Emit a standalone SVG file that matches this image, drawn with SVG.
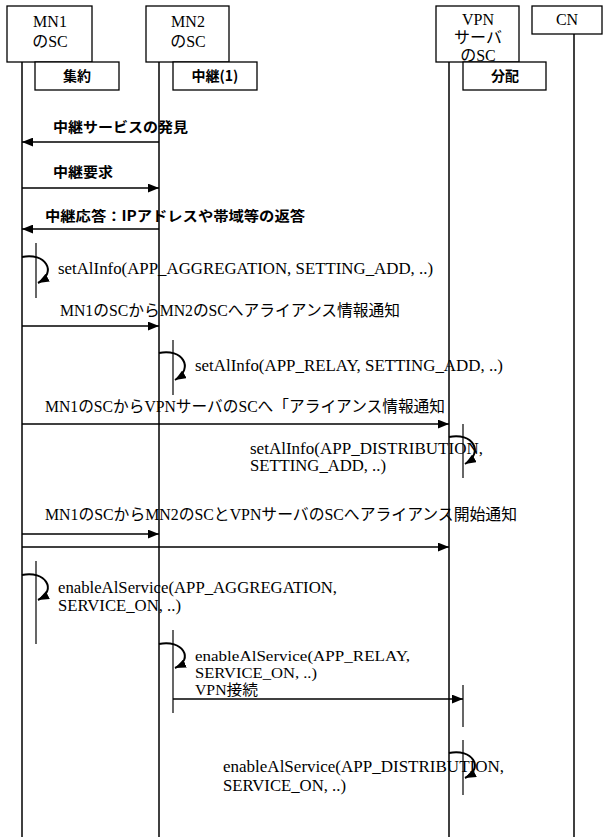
<svg xmlns="http://www.w3.org/2000/svg" width="610" height="837" viewBox="0 0 610 837">
<defs>
<style>
.box{fill:#fff;stroke:#000;stroke-width:1.3}
.life{stroke:#000;stroke-width:1.5;fill:none}
.act{stroke:#000;stroke-width:1.2;fill:none}
.msg{stroke:#000;stroke-width:1.4;fill:none}
.self{stroke:#000;stroke-width:2;fill:none}
.t{font-family:"Liberation Serif","Noto Sans CJK JP",serif;font-size:16px;fill:#000}
.s{font-family:"Liberation Serif","Noto Sans CJK JP",serif;font-size:14.5px;fill:#000}
.h{font-family:"Liberation Serif","Noto Sans CJK JP",serif;font-size:16px;fill:#000;text-anchor:middle}
.b{font-family:"Noto Sans CJK JP","Liberation Sans",sans-serif;font-size:14px;font-weight:bold;fill:#000}
.bh{font-family:"Noto Sans CJK JP","Liberation Sans",sans-serif;font-size:14px;font-weight:bold;fill:#000;text-anchor:middle}
</style>
<marker id="ah" viewBox="0 0 10 8" refX="10" refY="4" markerWidth="11" markerHeight="9" markerUnits="userSpaceOnUse" orient="auto">
<path d="M0 0 L10 4 L0 8 Z" fill="#000"/>
</marker>
</defs>
<rect width="610" height="837" fill="#fff"/>

<g id="mn1">
<line class="life" x1="22" y1="62" x2="22" y2="837"/>
<rect class="box" x="7" y="6" width="85" height="56"/>
<text class="h" x="50" y="27">MN1</text>
<text class="h" x="50" y="47">のSC</text>
<rect class="box" x="35" y="62" width="84" height="28"/>
<text class="bh" x="77" y="81">集約</text>
</g>

<g id="mn2">
<line class="life" x1="159" y1="62" x2="159" y2="837"/>
<rect class="box" x="146" y="6" width="83" height="56"/>
<text class="h" x="188" y="27">MN2</text>
<text class="h" x="188" y="47">のSC</text>
<rect class="box" x="173" y="62" width="84" height="28"/>
<text class="bh" x="215" y="81">中継(1)</text>
</g>

<g id="vpn">
<line class="life" x1="449" y1="62" x2="449" y2="837"/>
<rect class="box" x="436" y="6" width="83" height="56"/>
<text class="h" x="478" y="25">VPN</text>
<text class="h" x="478" y="43">サーバ</text>
<text class="h" x="478" y="61">のSC</text>
<rect class="box" x="463" y="62" width="83" height="28"/>
<text class="bh" x="505" y="81">分配</text>
</g>

<g id="cn">
<line class="life" x1="574" y1="34" x2="574" y2="837"/>
<rect class="box" x="532" y="6" width="70" height="28"/>
<text class="h" x="567" y="25">CN</text>
</g>

<g id="activations">
<line class="act" x1="36" y1="243" x2="36" y2="298"/>
<line class="act" x1="173" y1="340" x2="173" y2="395"/>
<line class="act" x1="463" y1="424" x2="463" y2="478"/>
<line class="act" x1="36" y1="561" x2="36" y2="644"/>
<line class="act" x1="173" y1="630" x2="173" y2="713"/>
<line class="act" x1="463" y1="685" x2="463" y2="727"/>
<line class="act" x1="463" y1="740" x2="463" y2="795"/>
</g>

<g id="connectors">
<line class="msg" x1="159" y1="142" x2="22" y2="142" marker-end="url(#ah)"/>
<line class="msg" x1="22" y1="188" x2="159" y2="188" marker-end="url(#ah)"/>
<line class="msg" x1="159" y1="229" x2="22" y2="229" marker-end="url(#ah)"/>
<path class="self" d="M22 257 C45 252 58 272 38 283" marker-end="url(#ah)"/>
<line class="msg" x1="22" y1="326" x2="159" y2="326" marker-end="url(#ah)"/>
<path class="self" d="M159 353 C182 348 195 368 175 380" marker-end="url(#ah)"/>
<line class="msg" x1="22" y1="424" x2="449" y2="424" marker-end="url(#ah)"/>
<path class="self" d="M449 437 C472 432 485 452 465 464" marker-end="url(#ah)"/>
<line class="msg" x1="22" y1="534" x2="159" y2="534" marker-end="url(#ah)"/>
<line class="msg" x1="22" y1="547" x2="449" y2="547" marker-end="url(#ah)"/>
<path class="self" d="M22 575 C45 570 58 590 38 600" marker-end="url(#ah)"/>
<path class="self" d="M159 644 C182 639 195 659 175 668" marker-end="url(#ah)"/>
<line class="msg" x1="173" y1="699" x2="463" y2="699" marker-end="url(#ah)"/>
<path class="self" d="M449 753 C472 748 485 768 465 778" marker-end="url(#ah)"/>
</g>

<g id="labels">
<text class="b" x="53" y="132" textLength="135" lengthAdjust="spacingAndGlyphs">中継サービスの発見</text>
<text class="b" x="53" y="177" textLength="60" lengthAdjust="spacingAndGlyphs">中継要求</text>
<text class="b" x="45" y="221" textLength="260" lengthAdjust="spacingAndGlyphs">中継応答：IPアドレスや帯域等の返答</text>
<text class="t" x="58" y="274" textLength="375" lengthAdjust="spacingAndGlyphs">setAlInfo(APP_AGGREGATION, SETTING_ADD, ..)</text>
<text class="t" x="60" y="316" textLength="340" lengthAdjust="spacingAndGlyphs">MN1のSCからMN2のSCへアライアンス情報通知</text>
<text class="t" x="195" y="371" textLength="308" lengthAdjust="spacingAndGlyphs">setAlInfo(APP_RELAY, SETTING_ADD, ..)</text>
<text class="t" x="45" y="412" textLength="400" lengthAdjust="spacingAndGlyphs">MN1のSCからVPNサーバのSCへ「アライアンス情報通知</text>
<text class="t" x="250" y="454" textLength="233" lengthAdjust="spacingAndGlyphs">setAlInfo(APP_DISTRIBUTION,</text>
<text class="t" x="250" y="471" textLength="136" lengthAdjust="spacingAndGlyphs">SETTING_ADD, ..)</text>
<text class="t" x="45" y="520" textLength="472" lengthAdjust="spacingAndGlyphs">MN1のSCからMN2のSCとVPNサーバのSCへアライアンス開始通知</text>
<text class="t" x="58" y="593" textLength="279" lengthAdjust="spacingAndGlyphs">enableAlService(APP_AGGREGATION,</text>
<text class="t" x="58" y="611" textLength="123" lengthAdjust="spacingAndGlyphs">SERVICE_ON, ..)</text>
<text class="s" x="195" y="661" textLength="215" lengthAdjust="spacingAndGlyphs">enableAlService(APP_RELAY,</text>
<text class="s" x="195" y="678" textLength="122" lengthAdjust="spacingAndGlyphs">SERVICE_ON, ..)</text>
<text class="s" x="195" y="695" textLength="63" lengthAdjust="spacingAndGlyphs">VPN接続</text>
<text class="t" x="223" y="772" textLength="281" lengthAdjust="spacingAndGlyphs">enableAlService(APP_DISTRIBUTION,</text>
<text class="t" x="223" y="791" textLength="123" lengthAdjust="spacingAndGlyphs">SERVICE_ON, ..)</text>
</g>
</svg>
